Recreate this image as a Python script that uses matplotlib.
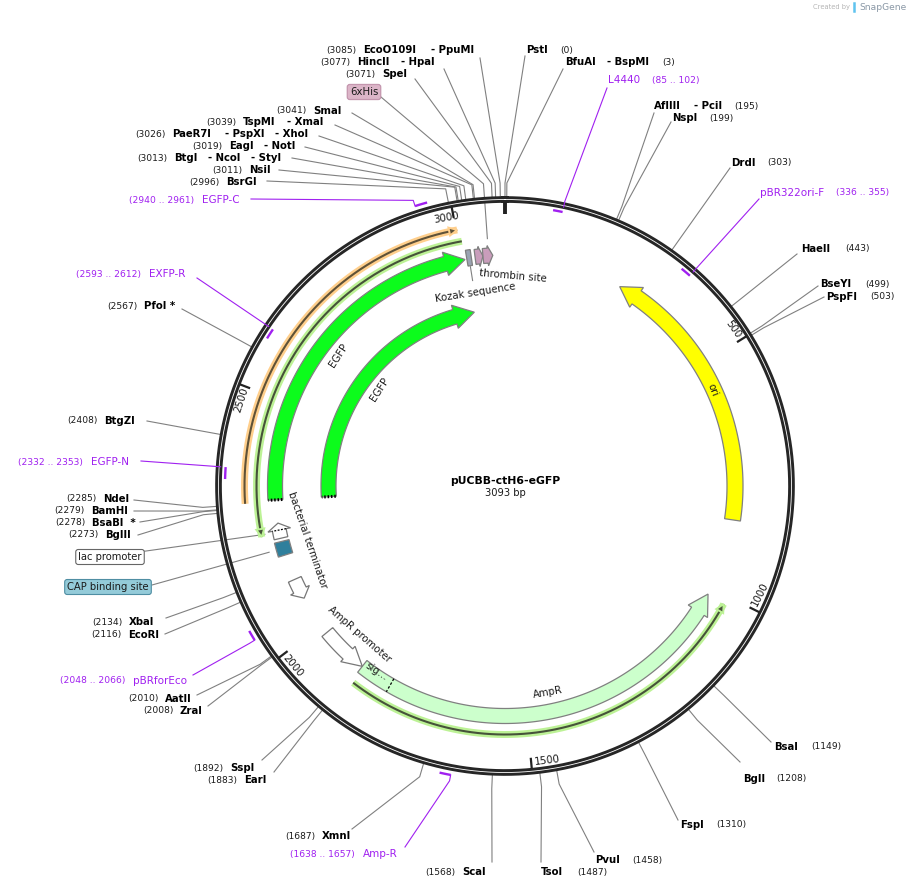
import matplotlib
matplotlib.use("Agg")
import matplotlib.pyplot as plt
from matplotlib.patches import Polygon
import numpy as np

TOTAL_BP = 3093
PLASMID = "pUCBB-ctH6-eGFP"

# restriction sites
SITE_BP = [3085, 3077, 3071, 3041, 3039, 3026, 3019, 3013, 3011, 2996,
           0, 3, 195, 199, 303, 443, 499, 503, 1149, 1208, 1310, 1458, 1487,
           1568, 1687, 1892, 1883, 2008, 2010, 2116, 2134, 2273, 2278, 2279, 2285,
           2408, 2567]
SITE_NAMES = [["EcoO109I", "- PpuMI"], ["HincII", "- HpaI"], ["SpeI"], ["SmaI"],
              ["TspMI", "- XmaI"], ["PaeR7I", "- PspXI", "- XhoI"], ["EagI", "- NotI"],
              ["BtgI", "- NcoI", "- StyI"], ["NsiI"], ["BsrGI"],
              ["PstI"], ["BfuAI", "- BspMI"], ["AflIII", "- PciI"], ["NspI"], ["DrdI"],
              ["HaeII"], ["BseYI"], ["PspFI"], ["BsaI"], ["BglI"], ["FspI"], ["PvuI"],
              ["TsoI"], ["ScaI"], ["XmnI"], ["SspI"], ["EarI"], ["ZraI"], ["AatII"],
              ["EcoRI"], ["XbaI"], ["BglII"], ["BsaBI  *"], ["BamHI"], ["NdeI"],
              ["BtgZI"], ["PfoI *"]]

# primers: name, start, end
PRIMER_NAMES = ["EGFP-C", "L4440", "pBR322ori-F", "EXFP-R", "EGFP-N", "pBRforEco", "Amp-R"]
PRIMER_START = [2940, 85, 336, 2593, 2332, 2048, 1638]
PRIMER_END = [2961, 102, 355, 2612, 2353, 2066, 1657]

TICK_BP = [500, 1000, 1500, 2000, 2500, 3000]

# where the site labels sit on the page: number x, name x's, row y, start of leader
SITE_NUM_X = [326, 320, 345, 276, 206, 135, 192, 137, 212, 189,
              560, 662, 734, 709, 767, 845, 865, 870, 811, 776, 716, 632, 577,
              425, 285, 193, 207, 143, 128, 91, 92, 68, 55, 54, 66, 67, 107]
SITE_NAME_X = [[363, 431], [357, 401], [382], [313], [243, 287], [172, 225, 275],
               [229, 264], [174, 208, 251], [249], [226],
               [526], [565, 607], [654, 694], [672], [731], [801], [820], [826],
               [774], [743], [680], [595], [541], [462], [322], [230], [244], [180],
               [165], [128], [129], [105], [92], [91], [103], [104], [144]]
SITE_Y = [50, 62, 74, 110.5, 122, 134, 146, 158, 170, 182,
          50, 62, 106, 118, 163, 249, 284, 297, 747, 779, 825, 860, 872,
          872, 836, 768, 780, 711, 699, 635, 622, 535, 523, 511, 499, 421, 306]
SITE_LINE_XY = [(480, 58), (444, 69), (415, 79), (352, 113), (335, 125), (319, 136),
                (305, 147), (292, 158), (279, 170), (267, 181),
                (525, 56), (563, 69), (654, 113), (671, 122), (730, 168), (797, 254),
                (818, 286), (824, 297), (771, 742), (740, 762), (678, 820), (594, 852),
                (541, 862), (492, 862), (352, 829), (262, 760), (274, 772), (208, 706),
                (197, 695), (165, 634), (166, 618), (138, 535), (140, 522), (134, 511),
                (134, 500), (147, 421), (182, 309)]

PRIMER_NUM_X = [129, 652, 836, 76, 18, 60, 290]
PRIMER_NAME_X = [202, 608, 760, 149, 91, 133, 363]
PRIMER_Y = [200, 80, 193, 274, 462, 681, 854]
PRIMER_LINE_XY = [(251, 199), (607, 88), (759, 199), (197, 278), (141, 461), (193, 675), (405, 847)]
PRIMER_R = [294, 280, 280, 280, 280, 294, 294]

CX, CY = 505, 486
GRAY = "#808080"
PURPLE = "#a020f0"
BLACK = "#1a1a1a"

fig = plt.figure(figsize=(9.10, 8.89), dpi=100)
ax = fig.add_axes([0, 0, 1, 1])
ax.set_xlim(0, 910)
ax.set_ylim(889, 0)
ax.axis("off")


def deg(bp):
    return np.asarray(bp) / TOTAL_BP * 2 * np.pi


def pos(bp, r):
    t = deg(bp)
    return CX + r * np.sin(t), CY - r * np.cos(t)


def arc(bp1, bp2, r, n=120):
    bps = np.linspace(bp1, bp2, n)
    return pos(bps, r)


def arrow(tail, tip, r, w, head_px, head_w, fc, ec=GRAY, z=3, lw=0.9):
    # tail/tip in bp, the head length is given in pixels along the circle
    sign = 1 if tip > tail else -1
    neck = tip - sign * head_px / r * TOTAL_BP / (2 * np.pi)
    xo, yo = arc(tail, neck, r + w / 2)
    xi, yi = arc(neck, tail, r - w / 2)
    bx1, by1 = pos(neck, r + head_w / 2)
    bx2, by2 = pos(neck, r - head_w / 2)
    tx, ty = pos(tip, r)
    xs = list(xo) + [bx1, tx, bx2] + list(xi)
    ys = list(yo) + [by1, ty, by2] + list(yi)
    ax.add_patch(Polygon(np.column_stack([xs, ys]), closed=True, fc=fc, ec=ec, lw=lw, zorder=z))


def thin_feature(start, end, r, glow, dark, head_at_end=True):
    x, y = arc(start, end, r, 200)
    ax.plot(x, y, color=glow, lw=5.0, solid_capstyle="butt", zorder=2)
    ax.plot(x, y, color=dark, lw=1.5, solid_capstyle="butt", zorder=3)
    tip = end if head_at_end else start
    sign = 1 if (end > start) == head_at_end else -1
    neck = tip - sign * 8 / r * TOTAL_BP / (2 * np.pi)
    pts = [pos(neck, r + 4), pos(tip, r), pos(neck, r - 4)]
    ax.add_patch(Polygon(pts, closed=True, fc=dark, ec=glow, lw=1.4, zorder=3))


def radial(bp, r1, r2, **kw):
    x1, y1 = pos(bp, r1)
    x2, y2 = pos(bp, r2)
    ax.plot([x1, x2], [y1, y2], **kw)


def rect(b1, b2, r, w, fc, z=3):
    xo, yo = arc(b1, b2, r + w / 2, 10)
    xi, yi = arc(b2, b1, r - w / 2, 10)
    ax.add_patch(Polygon(np.column_stack([list(xo) + list(xi), list(yo) + list(yi)]),
                         closed=True, fc=fc, ec=GRAY, lw=0.9, zorder=z))


# backbone ring
xr, yr = arc(0, TOTAL_BP, 286.5, 720)
ax.plot(xr, yr, color="#262626", lw=4.8, zorder=5)
ax.plot(xr, yr, color="white", lw=0.6, zorder=6)

# ticks and their numbers
radial(0, 284, 272, color="#222222", lw=2.8, solid_capstyle="butt", zorder=6)
for b in TICK_BP:
    radial(b, 284, 273, color="#222222", lw=1.6, solid_capstyle="butt", zorder=6)
tick_rot = [-55, 63, 7, -50, 72, 10]
tick_xy = [(733, 329), (760, 594), (547, 760), (293, 666), (241, 400), (446, 218)]
for b, rot, (tx, ty) in zip(TICK_BP, tick_rot, tick_xy):
    ax.text(tx, ty, str(b), fontsize=7.4, rotation=rot, rotation_mode="anchor",
            ha="center", va="center", color=BLACK, zorder=7)

# big features
arrow(846, 257, 230, 16, 20, 24, "#ffff00")
arrow(2290, 3007, 230, 15, 20, 24, "#0cfc1c")
arrow(2290, 3007, 176.5, 15, 20, 24, "#0cfc1c")
arrow(1876, 1014, 230, 15, 20, 23, "#ccffcc")
for b, r in [(2290, 230), (2290, 176.5)]:
    radial(b, r - 7, r + 7, color="black", lw=2.2, ls=(0, (0.5, 0.6)), zorder=4)
radial(1804, 222.5, 237.5, color="black", lw=0.9, ls=(0, (2, 1.5)), zorder=4)

# thin features
thin_feature(2286, 3002, 260.5, "#ffcf8c", "#5f5238")
thin_feature(2218, 3007, 248.5, "#bdf296", "#46523a", head_at_end=False)
thin_feature(1870, 1017, 248.5, "#bdf296", "#46523a")

# small features
rect(3011, 3021, 231, 16, "#9aa3b2")
arrow(3029, 3046, 231, 15, 4, 20, "#c99dbb")
arrow(3046, 3067, 231, 15, 5, 20, "#c99dbb")
arrow(2207, 2240, 230, 14, 7, 23, "white", ec="#777777")
radial(2225, 223, 237, color="black", lw=0.9, ls=(0, (1.5, 1.2)), zorder=4)
rect(2170, 2200, 230, 15, "#2f7f9c")
arrow(2114, 2069, 230, 14, 9, 21, "white", ec="#777777")
arrow(1981, 1876, 230, 14, 19, 21, "white", ec="#777777")

# feature names along the circle
feature_labels = [("thrombin site", 513, 276, -5), ("Kozak sequence", 475, 293, 9),
                  ("EGFP", 339, 355, 57), ("EGFP", 380, 389, 57),
                  ("bacterial terminator", 307, 540, -71), ("AmpR promoter", 359, 634, -41),
                  ("AmpR", 548, 692, 10), ("ori", 713, 390, -69), ("sig…", 376, 672, -33)]
for txt, tx, ty, rot in feature_labels:
    ax.text(tx, ty, txt, fontsize=7.3, rotation=rot, rotation_mode="anchor",
            ha="center", va="center", color=BLACK, zorder=7)

# restriction sites
for i, b in enumerate(SITE_BP):
    ex, ey = pos(b, 303)
    rx, ry = pos(b, 289)
    sx, sy = SITE_LINE_XY[i]
    ax.plot([sx, ex, rx], [sy, ey, ry], color=GRAY, lw=0.8, zorder=1)
    ax.text(SITE_NUM_X[i], SITE_Y[i], f"({b})", fontsize=6.6, ha="left", va="center", color=BLACK)
    for name, nx in zip(SITE_NAMES[i], SITE_NAME_X[i]):
        ax.text(nx, SITE_Y[i], name, fontsize=7.3, fontweight="bold", ha="left", va="center", color="black")

# 6xHis goes through the ring down to its feature
ex, ey = pos(3058, 303)
rx, ry = pos(3058, 248)
ax.plot([381, ex, rx], [97, ey, ry], color=GRAY, lw=0.8, zorder=1)
ax.text(364, 92, "6xHis", fontsize=7.3, ha="center", va="center", color=BLACK, zorder=8,
        bbox=dict(boxstyle="round,pad=0.25", fc="#dcb5c8", ec="#c496ae", lw=0.9))

# lac promoter and CAP site
ex, ey = pos(2222, 245)
ax.plot([139, ex], [552, ey], color=GRAY, lw=0.8, zorder=1)
ax.text(110, 557, "lac promoter", fontsize=7.2, ha="center", va="center", color=BLACK, zorder=8,
        bbox=dict(boxstyle="round,pad=0.25", fc="white", ec="#666666", lw=0.8))
ex, ey = pos(2185, 245)
ax.plot([152, ex], [585, ey], color=GRAY, lw=0.8, zorder=1)
ax.text(108, 587, "CAP binding site", fontsize=7.2, ha="center", va="center", color=BLACK, zorder=8,
        bbox=dict(boxstyle="round,pad=0.25", fc="#94cbd9", ec="#4f8ea3", lw=0.8))

# kozak leader
radial(3016, 222, 208, color=GRAY, lw=0.8, zorder=1)

# primers
for i, name in enumerate(PRIMER_NAMES):
    r = PRIMER_R[i]
    mx, my = arc(PRIMER_START[i], PRIMER_END[i], r, 10)
    ax.plot(mx, my, color=PURPLE, lw=1.7, solid_capstyle="butt", zorder=7)
    # outer marks hook onto their start, the inner leaders stop short of the mark
    if r > 285:
        hx, hy = pos(PRIMER_START[i], r + 6)
        ex, ey = pos(PRIMER_START[i], r)
    else:
        hx, hy = pos(PRIMER_END[i], 291)
        ex, ey = pos(PRIMER_END[i], 285)
    sx, sy = PRIMER_LINE_XY[i]
    ax.plot([sx, hx, ex], [sy, hy, ey], color=PURPLE, lw=0.8, zorder=7)
    ax.text(PRIMER_NAME_X[i], PRIMER_Y[i], name, fontsize=7.5, ha="left", va="center", color=PURPLE)
    ax.text(PRIMER_NUM_X[i], PRIMER_Y[i], f"({PRIMER_START[i]} .. {PRIMER_END[i]})", fontsize=6.6,
            ha="left", va="center", color=PURPLE)

# plasmid name
ax.text(505, 481, PLASMID, fontsize=7.8, fontweight="bold", ha="center", va="center", color="black")
ax.text(505, 493, f"{TOTAL_BP} bp", fontsize=7.2, ha="center", va="center", color=BLACK)

# watermark
ax.text(813, 7.5, "Created by", fontsize=4.9, ha="left", va="center", color="#b5b5b5")
ax.plot([854, 854], [3, 11], color="#5fc3ef", lw=1.8)
ax.text(859, 7.5, "SnapGene", fontsize=6.6, ha="left", va="center", color="#8a98a6")

fig.savefig("out.png", dpi=100)
